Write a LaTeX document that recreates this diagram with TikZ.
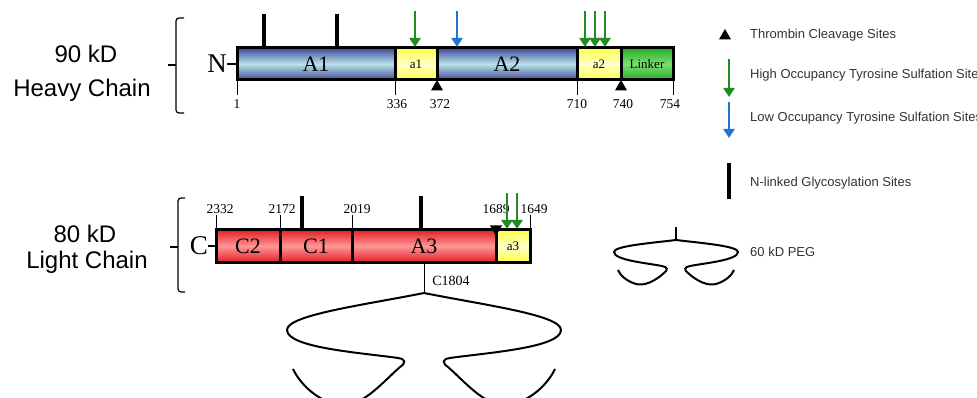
\documentclass[tikz,border=0pt]{standalone}
\usepackage{fontspec}
\setmainfont{Liberation Serif}
\newfontfamily\legendfont{Liberation Sans}
\usetikzlibrary{positioning,arrows.meta,shapes.geometric}

\definecolor{domblue}{RGB}{62,72,152}
\definecolor{domcyan}{RGB}{184,228,234}
\definecolor{domred}{RGB}{228,32,40}
\definecolor{domrose}{RGB}{255,150,150}
\definecolor{domyellow}{RGB}{255,255,70}
\definecolor{domcream}{RGB}{255,255,200}
\definecolor{domgreen}{RGB}{40,170,40}
\definecolor{domlime}{RGB}{120,225,110}
\definecolor{sulfhigh}{RGB}{34,139,34}
\definecolor{sulflow}{RGB}{30,118,205}

\tikzset{
  dom/.style={draw, line width=3pt, outer sep=0pt, inner sep=0pt, minimum height=32pt},
  bluedom/.style={dom, top color=domblue, bottom color=domblue, middle color=domcyan, font=\fontsize{22}{24}\selectfont},
  reddom/.style={dom, top color=domred, bottom color=domred, middle color=domrose, font=\fontsize{22}{24}\selectfont},
  acidic/.style={dom, top color=domyellow, bottom color=domyellow, middle color=domcream, font=\fontsize{13}{15}\selectfont},
  linker/.style={dom, top color=domgreen, bottom color=domgreen, middle color=domlime, font=\fontsize{13}{15}\selectfont},
  endlbl/.style={inner sep=0pt, font=\fontsize{27}{29}\selectfont},
  chainlbl/.style={anchor=base, inner sep=0pt, font=\legendfont\fontsize{24}{28}\selectfont},
  sitenum/.style={inner sep=1pt, font=\fontsize{13.5}{15}\selectfont},
  sitetick/.style={line width=1pt},
  brace/.style={line width=1.2pt, rounded corners=3pt},
  cleave/.style={regular polygon, regular polygon sides=3, fill=black, inner sep=0pt, outer sep=0pt, minimum size=14pt},
  glyco/.style={line width=4pt},
  hisulf/.style={sulfhigh, line width=2.8pt, -{Triangle[width=11pt,length=9pt]}},
  losulf/.style={sulflow, line width=2.8pt, -{Triangle[width=11pt,length=9pt]}},
  peg/.style={line width=2pt},
  legtext/.style={anchor=west, inner sep=0pt, text=black!80, font=\legendfont\fontsize{13}{15}\selectfont}
}

\begin{document}
\begin{tikzpicture}[x=1pt,y=-1pt]
\useasboundingbox (0,0) rectangle (977,398);

% chain names and braces
\node[chainlbl] (hvtop) at (86,63) {90 kD};
\node[chainlbl] (hvbot) at (82,97) {Heavy Chain};
\node[chainlbl] (lttop) at (85,243) {80 kD};
\node[chainlbl] (ltbot) at (87,269) {Light Chain};
\draw[brace] (184,18) -- (176,18) -- (176,113) -- (184,113);
\draw[brace] (168,65) -- (176,65);
\draw[brace] (185,198) -- (178,198) -- (178,292) -- (185,292);
\draw[brace] (170,247) -- (178,247);

% heavy chain
\node[bluedom, minimum width=158pt] (A1) at (316,64) {A1};
\node[acidic, minimum width=42pt, right=0pt of A1] (a1) {a1};
\node[bluedom, minimum width=140pt, right=0pt of a1] (A2) {A2};
\node[acidic, minimum width=44pt, right=0pt of A2] (a2) {a2};
\node[linker, minimum width=52pt, right=0pt of a2] (lnk) {Linker};
\node[endlbl, left=10pt of A1] (Nterm) {N};
\draw[line width=1.3pt] (Nterm) -- (A1);

\node[sitenum, below=18pt of A1.south west] (t1) {1};
\node[sitenum, below=18pt of A1.south east, xshift=2pt] (t336) {336};
\node[sitenum, below=18pt of a1.south east, xshift=3pt] (t372) {372};
\node[sitenum, below=18pt of A2.south east] (t710) {710};
\node[sitenum, below=18pt of a2.south east, xshift=2pt] (t740) {740};
\node[sitenum, below=18pt of lnk.south east, xshift=-3pt] (t754) {754};
\foreach \n/\t in {A1.south west/t1, A1.south east/t336, A2.south east/t710, lnk.south east/t754}
  \draw[sitetick, shorten >=3pt] (\n) -- (\n |- \t.north);
\node[cleave, anchor=corner 1] (c372) at (a1.south east) {};
\node[cleave, anchor=corner 1] (c740) at (a2.south east) {};

% light chain
\node[reddom, minimum width=64pt] (C2) at (248,246) {C2};
\node[reddom, minimum width=72pt, right=0pt of C2] (C1) {C1};
\node[reddom, minimum width=144pt, right=0pt of C1] (A3) {A3};
\node[acidic, minimum width=34pt, right=0pt of A3] (a3) {a3};
\node[endlbl, left=8pt of C2] (Cterm) {C};
\draw[line width=1.3pt] (Cterm) -- (C2);

\node[sitenum, above=15pt of C2.north west, xshift=4pt] (t2332) {2332};
\node[sitenum, above=15pt of C1.north west, xshift=2pt] (t2172) {2172};
\node[sitenum, above=15pt of A3.north west, xshift=5pt] (t2019) {2019};
\node[sitenum, above=15pt of A3.north east] (t1689) {1689};
\node[sitenum, above=15pt of a3.north east, xshift=4pt] (t1649) {1649};
\foreach \n/\t in {C2.north west/t2332, C1.north west/t2172, A3.north west/t2019, a3.north east/t1649}
  \draw[sitetick] (\n) -- (\n |- \t.south);
\node[cleave, rotate=180, anchor=corner 1] (c1689) at ([yshift=-6pt]A3.north east) {};

% glycosylation and sulfation sites
\foreach \x/\y in {264/48, 337/48, 302/230, 421/230}
  \draw[glyco] (\x,\y) -- ++(0,-34);
\foreach \x in {415,585,595,605}
  \draw[hisulf] (\x,11) -- (\x,47);
\draw[losulf] (457,11) -- (457,47);
\foreach \x in {507,517}
  \draw[hisulf] (\x,193) -- (\x,229);

% PEG on C1804
\coordinate (peg1) at (424,293);
\draw[sitetick] (A3.south) -- (peg1);
\node[sitenum, font=\fontsize{14}{16}\selectfont] (tC1804) at (451,281) {C1804};
\begin{scope}[shift={(peg1)}]
  \foreach \s in {1,-1}
    \draw[peg, xscale=\s] (0,0) .. controls (-60,12) and (-137,22) .. (-137,37)
      .. controls (-137,55) and (-60,60) .. (-26,65)
      .. controls (-18,66) and (-18,70) .. (-24,74)
      .. controls (-40,88) and (-60,112) .. (-80,112)
      .. controls (-100,112) and (-122,95) .. (-131,76);
\end{scope}

% legend
\node[cleave] (lgtri) at (725,36) {};
\node[legtext] (lgthr) at (750,35) {Thrombin Cleavage Sites};
\draw[hisulf] (729,59) -- (729,97);
\node[legtext] (lghi) at (750,75) {High Occupancy Tyrosine Sulfation Sites};
\draw[losulf] (729,102) -- (729,138);
\node[legtext] (lglo) at (750,118) {Low Occupancy Tyrosine Sulfation Sites};
\draw[glyco] (729,163) -- (729,199);
\node[legtext] (lgnl) at (750,183) {N-linked Glycosylation Sites};

\coordinate (peg2) at (676,240);
\draw[peg] (peg2) -- ++(0,-13);
\begin{scope}[shift={(peg2)}]
  \foreach \s in {1,-1}
    \draw[peg, xscale=\s] (0,0) .. controls (-25,3) and (-62,6) .. (-62,12)
      .. controls (-62,20) and (-30,23) .. (-14,26)
      .. controls (-8,27) and (-8,30) .. (-12,33)
      .. controls (-22,42) and (-32,46) .. (-40,44)
      .. controls (-50,41) and (-56,35) .. (-58,30);
\end{scope}
\node[legtext] (lgpeg) at (750,252) {60 kD PEG};
\end{tikzpicture}
\end{document}
